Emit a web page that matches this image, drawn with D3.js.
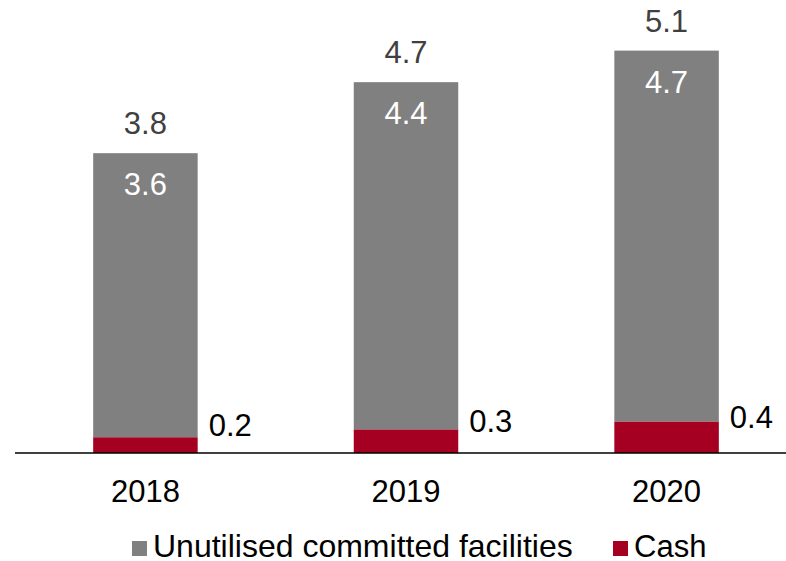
<!DOCTYPE html>
<html>
<head>
<meta charset="utf-8">
<script src="https://cdn.jsdelivr.net/npm/d3@7"></script>
<style>
  body { margin: 0; background: #fff; }
  text { font-family: "Liberation Sans", Arial, sans-serif; }
</style>
</head>
<body>
<script>
// 数据
const years = ['2018', '2019', '2020'];
const cash = [0.2, 0.3, 0.4];
const unutilised = [3.6, 4.4, 4.7];
const totals = [3.8, 4.7, 5.1];
const seriesNames = ['Unutilised committed facilities', 'Cash'];
const colors = ['#808080', '#A50021'];

const width = 786, height = 561;
const baseY = 453;
const fontSize = 31;

const svg = d3.select('body').append('svg')
    .attr('width', width)
    .attr('height', height);

const xScale = d3.scaleBand()
    .domain(years)
    .range([15, 797])
    .paddingInner(0.599)
    .paddingOuter(0.3);

const yScale = d3.scaleLinear()
    .domain([0, 5.1])
    .range([baseY, baseY - 78.9 * 5.1]);

const rows = years.map((y, i) => ({ year: y, cash: cash[i], unutilised: unutilised[i], total: totals[i] }));
const stack = d3.stack().keys(['cash', 'unutilised'])(rows);

// 柱子
svg.selectAll('.layer')
    .data(stack)
    .enter().append('g')
    .attr('fill', d => d.key === 'cash' ? colors[1] : colors[0])
    .selectAll('rect')
    .data(d => d)
    .enter().append('rect')
    .attr('x', d => xScale(d.data.year))
    .attr('y', d => yScale(d[1]))
    .attr('width', xScale.bandwidth())
    .attr('height', d => yScale(d[0]) - yScale(d[1]));

// 坐标轴线
svg.append('line')
    .attr('x1', 15).attr('x2', width)
    .attr('y1', baseY).attr('y2', baseY)
    .attr('stroke', '#000')
    .attr('stroke-width', 1.5);

// 年份标签
svg.selectAll('.xlabel')
    .data(years)
    .enter().append('text')
    .attr('x', d => xScale(d) + xScale.bandwidth() / 2)
    .attr('y', 502)
    .attr('text-anchor', 'middle')
    .style('font-size', fontSize + 'px')
    .attr('fill', '#000')
    .text(d => d);

// 合计标签
svg.selectAll('.total')
    .data(rows)
    .enter().append('text')
    .attr('x', d => xScale(d.year) + xScale.bandwidth() / 2)
    .attr('y', d => yScale(d.total) - 19)
    .attr('text-anchor', 'middle')
    .style('font-size', fontSize + 'px')
    .attr('fill', '#404040')
    .text(d => d.total.toFixed(1));

// 灰色段内标签
svg.selectAll('.inner')
    .data(rows)
    .enter().append('text')
    .attr('x', d => xScale(d.year) + xScale.bandwidth() / 2)
    .attr('y', d => yScale(d.total) + 42)
    .attr('text-anchor', 'middle')
    .style('font-size', fontSize + 'px')
    .attr('fill', '#fff')
    .text(d => d.unutilised.toFixed(1));

// 现金标签
svg.selectAll('.cashlabel')
    .data(rows)
    .enter().append('text')
    .attr('x', d => xScale(d.year) + xScale.bandwidth() + 11)
    .attr('y', d => yScale(d.cash / 2) - 9)
    .style('font-size', fontSize + 'px')
    .attr('fill', '#000')
    .text(d => d.cash.toFixed(1));

// 图例
const legendX = [132, 613];
const legendFont = [32, 31];
seriesNames.forEach((name, i) => {
    svg.append('rect')
        .attr('x', legendX[i]).attr('y', 541)
        .attr('width', 15).attr('height', 15)
        .attr('fill', colors[i]);
    svg.append('text')
        .attr('x', legendX[i] + 21)
        .attr('y', 557)
        .style('font-size', legendFont[i] + 'px')
        .attr('fill', '#000')
        .text(name);
});
</script>
</body>
</html>
